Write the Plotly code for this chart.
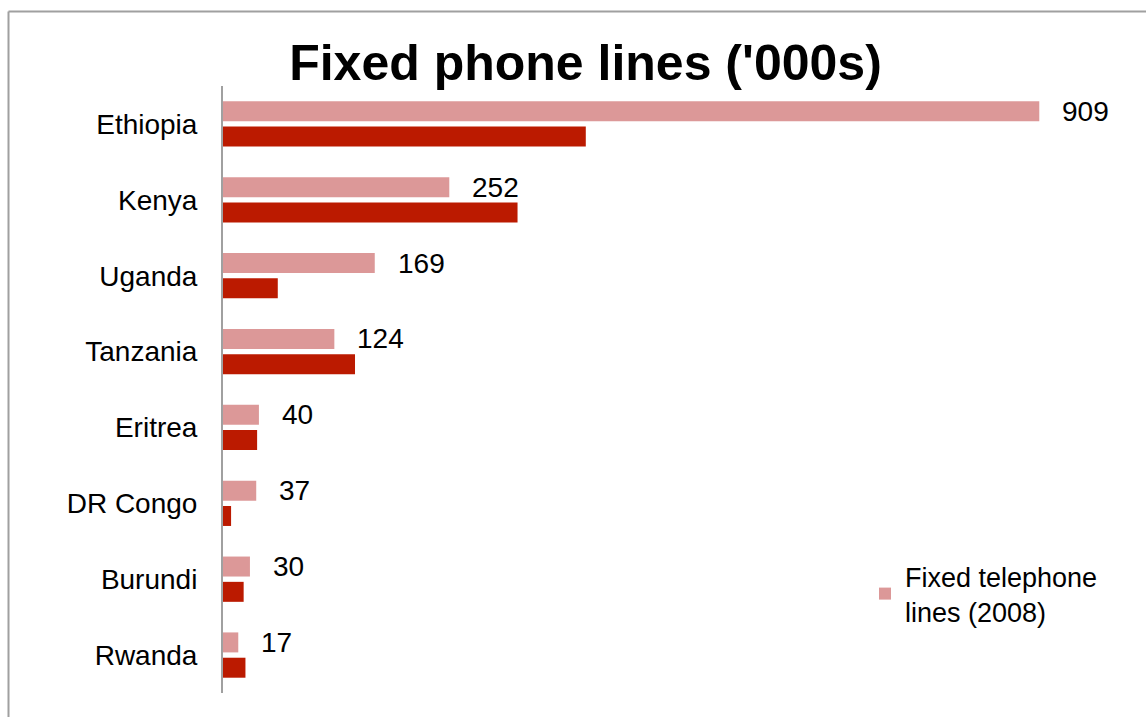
import plotly.graph_objects as go

# Fixed phone lines by country, thousands
countries = ["Ethiopia", "Kenya", "Uganda", "Tanzania", "Eritrea", "DR Congo", "Burundi", "Rwanda"]
lines_2008 = [909, 252, 169, 124, 40, 37, 30, 17]
lines_other = [404, 328, 61, 147, 38, 9, 23, 25]

PINK = "#DC9898"
DARK = "#BB1A00"
FONT = "Liberation Sans"

W, H = 1146, 717
ML, MR, MT, MB = 223, 25, 86, 24
PW, PH = W - ML - MR, H - MT - MB

fig = go.Figure()
fig.add_trace(go.Bar(
    y=countries, x=lines_2008, orientation="h",
    name="Fixed telephone<br>lines (2008)",
    marker=dict(color=PINK, line=dict(width=0)),
))
fig.add_trace(go.Bar(
    y=countries, x=lines_other, orientation="h",
    name="Comparison", showlegend=False,
    marker=dict(color=DARK, line=dict(width=0)),
))

# value labels beside the 2008 bars
for c, v in zip(countries, lines_2008):
    fig.add_annotation(
        x=v, y=c, xref="x", yref="y", text=str(v), showarrow=False,
        xanchor="left", yanchor="middle", xshift=21, yshift=12.6,
        font=dict(family=FONT, size=28, color="#000000"),
    )

# outer frame (left and top edges)
fx = (8.5 - ML) / PW
fy = (H - MB - 11.5) / PH
fig.add_shape(type="line", xref="paper", yref="paper", x0=fx, x1=fx, y0=fy, y1=-0.2,
              line=dict(color="#A0A0A0", width=2))
fig.add_shape(type="line", xref="paper", yref="paper", x0=fx, x1=1.2, y0=fy, y1=fy,
              line=dict(color="#A0A0A0", width=2))

fig.update_layout(
    width=W, height=H,
    margin=dict(l=ML, r=MR, t=MT, b=MB, pad=0),
    paper_bgcolor="white", plot_bgcolor="white",
    barmode="group", bargap=0.333, bargroupgap=0.21,
    title=dict(
        text="<b>Fixed phone lines ('000s)</b>",
        x=585.5 / W, xref="container", xanchor="center",
        y=1 - 62 / H, yref="container", yanchor="middle",
        font=dict(family=FONT, size=50, color="#000000"),
    ),
    xaxis=dict(range=[0, 1000], visible=False, showgrid=False, zeroline=False),
    yaxis=dict(
        autorange="reversed", showgrid=False, zeroline=False,
        showline=True, linecolor="#A0A0A0", linewidth=2,
        ticks="", ticklabelstandoff=18,
        tickfont=dict(family=FONT, size=28, color="#000000"),
    ),
    legend=dict(
        x=(865 - ML) / PW, xanchor="left", y=(H - MB - 552) / PH, yanchor="top",
        font=dict(family=FONT, size=27, color="#000000"),
        bgcolor="rgba(0,0,0,0)", itemwidth=30,
    ),
    font=dict(family=FONT),
)

fig.write_html("out.html")
